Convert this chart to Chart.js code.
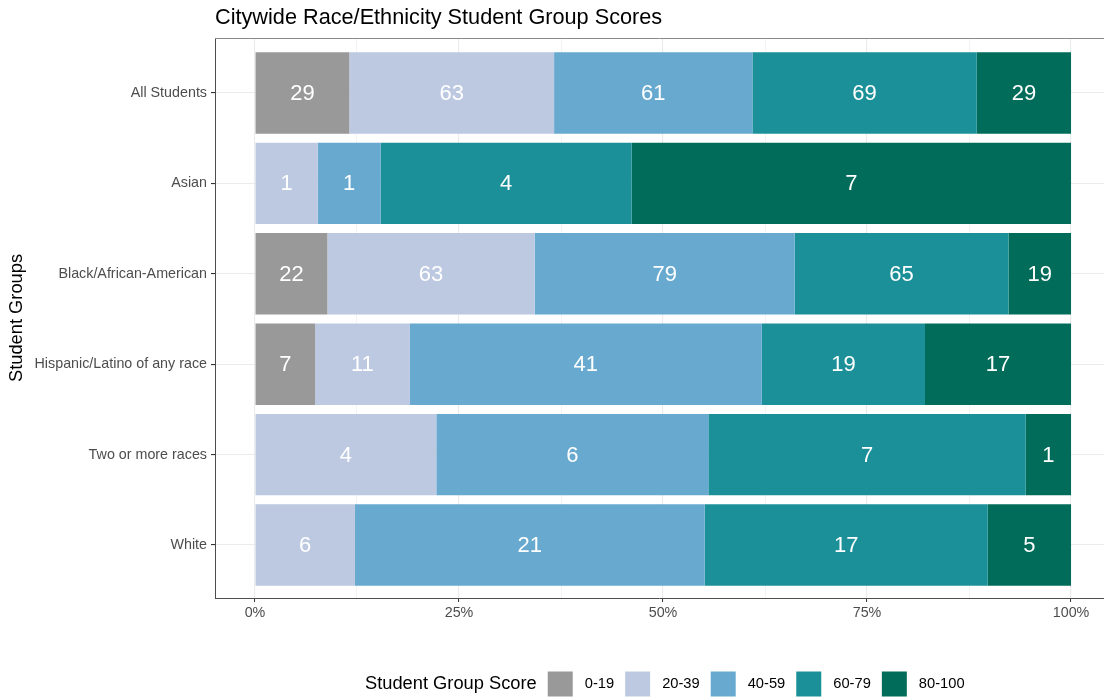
<!DOCTYPE html>
<html>
<head>
<meta charset="utf-8">
<script src="https://cdn.jsdelivr.net/npm/chart.js@4"></script>
<style>
  body { margin: 0; background: #fff; }
  canvas { display: block; }
</style>
</head>
<body>
<canvas id="scoreChart" width="1104" height="697"></canvas>
<script>
// Student groups (top to bottom) and counts in each score band
const groups = ['All Students', 'Asian', 'Black/African-American', 'Hispanic/Latino of any race', 'Two or more races', 'White'];
const bands = ['0-19', '20-39', '40-59', '60-79', '80-100'];
const band0to19 = [29, 0, 22, 7, 0, 0];
const band20to39 = [63, 1, 63, 11, 4, 6];
const band40to59 = [61, 1, 79, 41, 6, 21];
const band60to79 = [69, 4, 65, 19, 7, 17];
const band80to100 = [29, 7, 19, 17, 1, 5];
const xTicks = [0, 0.25, 0.5, 0.75, 1];
const xTickLabels = ['0%', '25%', '50%', '75%', '100%'];

const bandColors = ['#999999', '#BDC9E1', '#67A9CF', '#1C9099', '#016C59'];
const counts = [band0to19, band20to39, band40to59, band60to79, band80to100];

// total students per group, so each bar fills 100%
const totals = groups.map((g, i) => counts.reduce((s, arr) => s + arr[i], 0));

const datasets = counts.map((arr, b) => ({
    label: bands[b],
    data: arr.map((v, i) => ({ x: v / totals[i], y: i + 1, count: v })),
    backgroundColor: bandColors[b],
    borderWidth: 0,
    barPercentage: 0.9,
    categoryPercentage: 1
}));

const FONT = '"Liberation Sans", Arial, sans-serif';

// white count labels in the middle of each segment
const segmentLabels = {
    id: 'segmentLabels',
    afterDatasetsDraw(chart) {
        const ctx = chart.ctx;
        ctx.save();
        ctx.fillStyle = '#ffffff';
        ctx.font = '22px ' + FONT;
        ctx.textAlign = 'center';
        ctx.textBaseline = 'middle';
        chart.data.datasets.forEach((ds, di) => {
            const meta = chart.getDatasetMeta(di);
            meta.data.forEach((bar, i) => {
                const c = ds.data[i].count;
                if (!c) return;
                const p = bar.getProps(['x', 'y', 'base'], true);
                ctx.fillText(String(c), (p.x + p.base) / 2, p.y + 1);
            });
        });
        ctx.restore();
    }
};

// title, y axis title, panel top border and the legend row
const decorations = {
    id: 'decorations',
    afterDraw(chart) {
        const ctx = chart.ctx;
        const area = chart.chartArea;
        ctx.save();

        // panel border top (the right edge is cut off in the original)
        ctx.strokeStyle = '#8a8a8a';
        ctx.lineWidth = 1;
        ctx.beginPath();
        ctx.moveTo(area.left, area.top + 0.5);
        ctx.lineTo(area.right, area.top + 0.5);
        ctx.stroke();

        // chart title
        ctx.fillStyle = '#000000';
        ctx.font = '21.7px ' + FONT;
        ctx.textAlign = 'left';
        ctx.textBaseline = 'middle';
        ctx.fillText('Citywide Race/Ethnicity Student Group Scores', 215, 18);

        // y axis title
        ctx.save();
        ctx.translate(17, (area.top + area.bottom) / 2);
        ctx.rotate(-Math.PI / 2);
        ctx.textAlign = 'center';
        ctx.font = '18.3px ' + FONT;
        ctx.fillText('Student Groups', 0, 0);
        ctx.restore();

        // legend
        const ly = 684;
        let x = 365;
        ctx.textAlign = 'left';
        ctx.font = '18.3px ' + FONT;
        ctx.fillStyle = '#000000';
        ctx.fillText('Student Group Score', x, ly);
        x += ctx.measureText('Student Group Score').width + 11;
        ctx.font = '14.7px ' + FONT;
        bands.forEach((b, i) => {
            ctx.fillStyle = bandColors[i];
            ctx.fillRect(x, ly - 12.5, 25, 25);
            x += 25 + 12;
            ctx.fillStyle = '#000000';
            ctx.fillText(b, x, ly);
            x += ctx.measureText(b).width + 11;
        });

        ctx.restore();
    }
};

const isMajor = v => xTicks.some(t => Math.abs(t - v) < 1e-9);

new Chart(document.getElementById('scoreChart').getContext('2d'), {
    type: 'bar',
    data: { datasets },
    options: {
        indexAxis: 'y',
        responsive: false,
        animation: false,
        devicePixelRatio: 1,
        layout: { padding: { top: 38, right: 0, left: 0, bottom: 0 } },
        plugins: {
            legend: { display: false },
            tooltip: { enabled: false },
            title: { display: false }
        },
        scales: {
            x: {
                type: 'linear',
                stacked: true,
                min: -0.049,
                max: 1.0404,
                afterBuildTicks(scale) {
                    const t = [];
                    for (let v = 0; v <= 1.0001; v += 0.125) t.push({ value: v });
                    scale.ticks = t;
                },
                afterFit(scale) { scale.height = 99; },
                ticks: {
                    autoSkip: false,
                    maxRotation: 0,
                    padding: 2,
                    color: '#4D4D4D',
                    font: { family: FONT, size: 14.3 },
                    callback(v) {
                        const k = xTicks.findIndex(t => Math.abs(t - v) < 1e-9);
                        return k >= 0 ? xTickLabels[k] : '';
                    }
                },
                grid: {
                    color: '#EBEBEB',
                    lineWidth: c => (c.tick && isMajor(c.tick.value)) ? 1.1 : 0.6,
                    tickColor: c => (c.tick && isMajor(c.tick.value)) ? '#333333' : 'rgba(0,0,0,0)',
                    tickLength: 4,
                    tickWidth: 1
                },
                border: { color: '#4d4d4d', width: 1 }
            },
            y: {
                type: 'linear',
                stacked: true,
                reverse: true,
                offset: false,
                min: 0.392,
                max: 6.586,
                afterBuildTicks(scale) {
                    scale.ticks = groups.map((g, i) => ({ value: i + 1 }));
                },
                afterFit(scale) { scale.width = 215; },
                ticks: {
                    autoSkip: false,
                    padding: 4,
                    color: '#4D4D4D',
                    font: { family: FONT, size: 14.3 },
                    callback(v) { return groups[Math.round(v) - 1] || ''; }
                },
                grid: {
                    offset: false,
                    color: '#EBEBEB',
                    lineWidth: 1.1,
                    tickColor: '#333333',
                    tickLength: 4
                },
                border: { color: '#4d4d4d', width: 1 }
            }
        }
    },
    plugins: [segmentLabels, decorations]
});
</script>
</body>
</html>
